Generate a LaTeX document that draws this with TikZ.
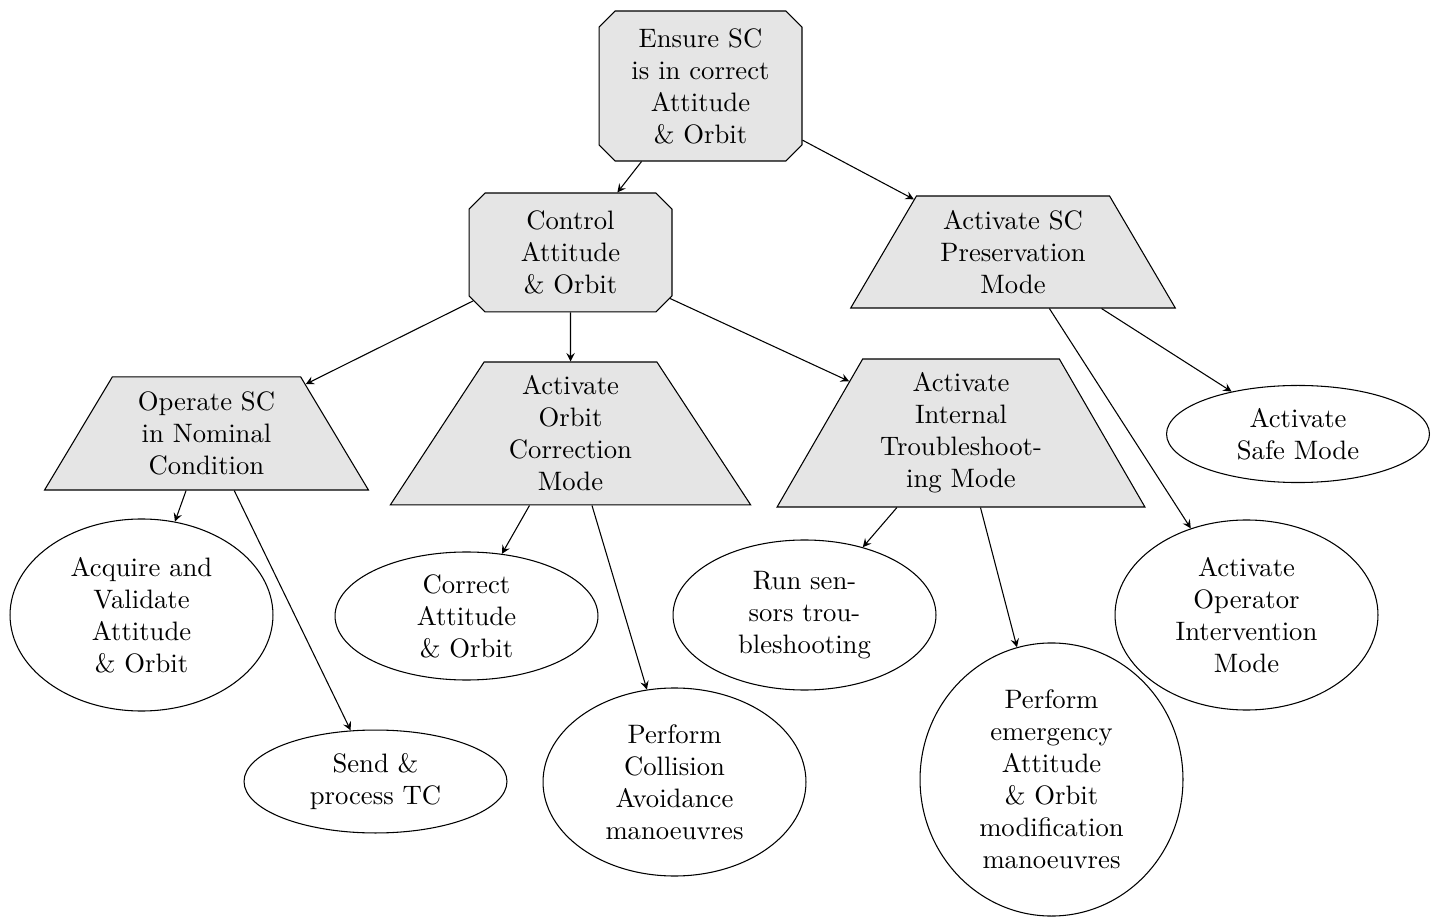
\documentclass[tikz,border=0pt]{standalone}
\usetikzlibrary{shapes.geometric,shapes.misc,arrows}
\begin{document}
\begin{tikzpicture}[x=0.375pt,y=-0.375pt,
  chamf/.style={chamfered rectangle, chamfered rectangle xsep=3pt, chamfered rectangle ysep=3pt,
    draw, fill=gray!20, align=center, minimum width=76.1pt, inner sep=1pt},
  trap/.style={trapezium, trapezium angle=60, trapezium stretches=true, draw, fill=gray!20,
    align=center, inner sep=1pt},
  ell/.style={ellipse, draw, align=center, inner sep=0pt, minimum width=98.6pt},
  arr/.style={-stealth}]
\useasboundingbox (0,0) rectangle (1440,918);

\node[chamf, minimum height=56.25pt] (ensure) at (700.5,86) {Ensure SC\\is in correct\\Attitude\\\& Orbit};
\node[chamf, minimum height=44.6pt] (control) at (570.5,252.5) {Control\\Attitude\\\& Orbit};
\node[trap, minimum width=122.25pt, minimum height=42pt] (pres) at (1013,252) {Activate SC\\Preservation\\Mode};
\node[trap, minimum width=122.6pt, minimum height=42.4pt] (oper) at (206.5,433.5) {Operate SC\\in Nominal\\Condition};
\node[trap, minimum width=136.1pt, minimum height=53.6pt] (orbit) at (570.5,433.5) {Activate\\Orbit\\Correction\\Mode};
\node[trap, minimum width=138pt, minimum height=55.5pt] (trouble) at (961,433) {Activate\\Internal\\Troubleshoot-\\ing Mode};

\node[ell, minimum height=36.4pt] (safe) at (1298,434) {Activate\\Safe Mode};
\node[ell, minimum height=72pt] (acq) at (141.5,615) {Acquire and\\Validate\\Attitude\\\& Orbit};
\node[ell, minimum height=38.6pt] (send) at (375.5,781.5) {Send \&\\process TC};
\node[ell, minimum height=48pt] (corr) at (466.5,616) {Correct\\Attitude\\\& Orbit};
\node[ell, minimum height=70.5pt] (coll) at (674.5,782) {Perform\\Collision\\Avoidance\\manoeuvres};
\node[ell, minimum height=56.25pt] (run) at (804.5,615) {Run sen-\\sors trou-\\bleshooting};
\node[ell, minimum height=102.4pt] (emer) at (1051.5,779.5) {Perform\\emergency\\Attitude\\\& Orbit\\modification\\manoeuvres};
\node[ell, minimum height=71.25pt] (opint) at (1246.5,615) {Activate\\Operator\\Intervention\\Mode};

\draw[arr] (ensure) -- (control);
\draw[arr] (ensure) -- (pres);
\draw[arr] (control) -- (oper);
\draw[arr] (control) -- (orbit);
\draw[arr] (control) -- (trouble);
\draw[arr] (pres) -- (safe);
\draw[arr] (pres) -- (opint);
\draw[arr] (oper) -- (acq);
\draw[arr] (oper) -- (send);
\draw[arr] (orbit) -- (corr);
\draw[arr] (orbit) -- (coll);
\draw[arr] (trouble) -- (run);
\draw[arr] (trouble) -- (emer);
\end{tikzpicture}
\end{document}
